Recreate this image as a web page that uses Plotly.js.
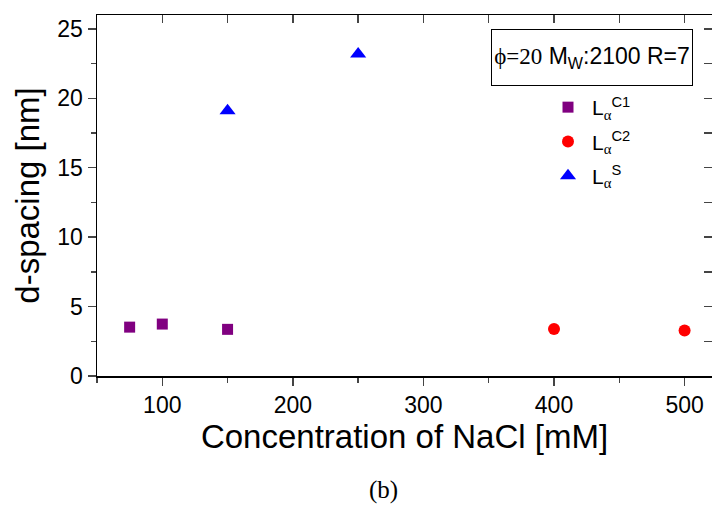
<!DOCTYPE html>
<html><head><meta charset="utf-8">
<script src="https://cdn.plot.ly/plotly-3.0.1.min.js"></script>
<style>body{margin:0;background:#fff}</style>
</head><body><div id="plot" style="width:712px;height:507px"></div>
<script>
const c1X = [75, 100, 150];
const c1Y = [3.52, 3.74, 3.36];
const c2X = [400, 500];
const c2Y = [3.38, 3.28];
const sX = [150, 250];
const sY = [19.1, 23.2];
const SER = "Liberation Serif, Times New Roman, serif";
const names = [
  "L<sub><span style='font-family:Liberation Serif'>α</span></sub><sup>C1</sup>",
  "L<sub><span style='font-family:Liberation Serif'>α</span></sub><sup>C2</sup>",
  "L<sub><span style='font-family:Liberation Serif'>α</span></sub><sup>S</sup>"];
const xTicks = [100, 200, 300, 400, 500];
const yTicks = [0, 5, 10, 15, 20, 25];

const F = "Liberation Sans, Arial, sans-serif";
const traces = [
  {x: c1X, y: c1Y, name: names[0], mode: "markers", legendgroup: "a",
   marker: {symbol: "square", size: 11, color: "#800080"}},
  {x: c2X, y: c2Y, name: names[1], mode: "markers", legendgroup: "b",
   marker: {symbol: "circle", size: 12, color: "#ff0000"}},
  {x: sX, y: sY, name: names[2], mode: "markers", legendgroup: "c",
   marker: {symbol: "triangle-up", size: 14, color: "#0000ff"}},
  {x: [], y: [], xaxis: "x2", yaxis: "y2", showlegend: false, hoverinfo: "skip"}
];
const layout = {
  width: 712, height: 507,
  margin: {l: 97, r: 0, t: 15, b: 131},
  paper_bgcolor: "#fff", plot_bgcolor: "#fff",
  font: {family: F, color: "#000"},
  showlegend: true,
  legend: {x: (544 - 97) / 615, y: (376 - 87) / 361, xanchor: "left", yanchor: "top",
           bgcolor: "rgba(0,0,0,0)", font: {size: 21, family: F}, tracegroupgap: 4, itemwidth: 38},
  xaxis: {range: [50, 521], tickvals: xTicks, ticks: "outside", ticklen: 8, tickwidth: 1.5,
          minor: {dtick: 50, tick0: 0, ticks: "outside", ticklen: 5, tickwidth: 1.5},
          showline: true, linewidth: 1.5, linecolor: "#000", showgrid: false, zeroline: false,
          tickfont: {size: 23, family: F},
          title: {text: "Concentration of NaCl [mM]", font: {size: 33, family: F}, standoff: 2}},
  yaxis: {range: [0, 26], tickvals: yTicks, ticks: "outside", ticklen: 8, tickwidth: 1.5,
          minor: {dtick: 2.5, tick0: 0, ticks: "outside", ticklen: 5, tickwidth: 1.5},
          showline: true, linewidth: 1.5, linecolor: "#000", showgrid: false, zeroline: false,
          tickfont: {size: 23, family: F},
          title: {text: "d-spacing [nm]", font: {size: 33, family: F}, standoff: 8}},
  xaxis2: {overlaying: "x", side: "top", anchor: "y", range: [50, 521], dtick: 50, tick0: 0,
           ticks: "inside", ticklen: 8, tickwidth: 1.5, showticklabels: false,
           showline: true, linewidth: 1.5, linecolor: "#000", showgrid: false, zeroline: false},
  yaxis2: {overlaying: "y", side: "right", anchor: "x", range: [0, 26], dtick: 2.5, tick0: 0,
           ticks: "inside", ticklen: 8, tickwidth: 1.5, showticklabels: false,
           showline: true, linewidth: 1.5, linecolor: "#000", showgrid: false, zeroline: false},
  annotations: [
    {xref: "paper", yref: "paper", x: (592 - 97) / 615, y: (376 - 57) / 361,
     xanchor: "center", yanchor: "middle", showarrow: false,
     text: "<span style='font-family:Liberation Serif'>ϕ=20</span> M<sub>W</sub>:2100 R=7",
     font: {size: 23, family: F}, bordercolor: "#000", borderwidth: 1, borderpad: 0,
     width: 200, height: 55},
    {xref: "paper", yref: "paper", x: (383 - 97) / 615, y: (376 - 490) / 361,
     xanchor: "center", yanchor: "middle", showarrow: false,
     text: "(b)", font: {size: 25, family: SER}}
  ]
};
Plotly.newPlot("plot", traces, layout, {displayModeBar: false, staticPlot: true});
</script></body></html>
